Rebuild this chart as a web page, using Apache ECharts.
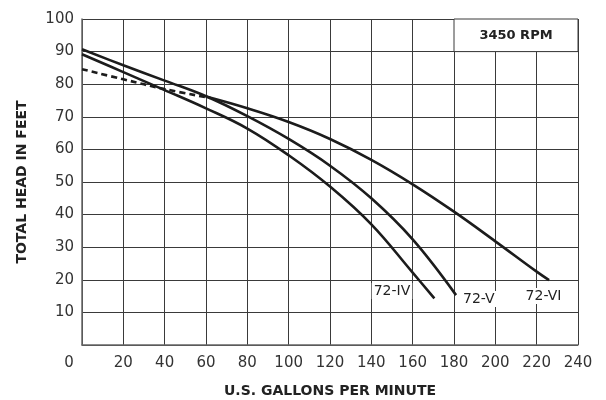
<!DOCTYPE html>
<html>
<head>
<meta charset="utf-8">
<script src="https://cdn.jsdelivr.net/npm/echarts@6/dist/echarts.min.js"></script>
<style>
html,body{margin:0;padding:0;background:#fff;}
#c{width:606px;height:400px;}
</style>
</head>
<body>
<div id="c"></div>
<script>
// ---- data ----
const xTicks = [0, 20, 40, 60, 80, 100, 120, 140, 160, 180, 200, 220, 240];
const yTicks = [0, 10, 20, 30, 40, 50, 60, 70, 80, 90, 100];

const gpmIV  = [0, 20, 40, 60, 80, 100, 120, 140, 160, 170.5];
const headIV = [89.2, 83.7, 78.2, 72.6, 66.4, 58.2, 48.6, 37.0, 22.2, 14.3];

const gpmV  = [0, 20, 40, 60, 80, 100, 120, 140, 160, 181];
const headV = [90.7, 85.8, 81.1, 76.3, 70.2, 63.2, 55.0, 45.0, 32.4, 15.3];

const gpmVI  = [60, 80, 100, 120, 140, 160, 180, 200, 220, 226];
const headVI = [76.2, 72.6, 68.4, 63.2, 56.8, 49.3, 40.9, 31.8, 22.5, 19.9];

const gpmVIdash  = [0, 20, 40, 62];
const headVIdash = [84.6, 81.5, 78.5, 75.8];

const seriesNames = ['72-IV', '72-V', '72-VI'];
const labelAnchors = [[150, 16.6], [192, 14.1], [223.3, 15.0]];
const rpmText = '3450 RPM';
const rpmBox = [[180, 90], [240, 100]];

const xTitle = 'U.S. GALLONS PER MINUTE';
const yTitle = 'TOTAL HEAD IN FEET';

// ---- build ----
const pairs = (xs, ys) => xs.map((x, i) => [x, ys[i]]);
const LINE = '#1c1c1c';
const GRID = '#3a3a3a';
const FONT = 'DejaVu Sans';

function curve(name, data, idx) {
  return {
    name: name,
    type: 'line',
    data: data,
    smooth: 0.4,
    symbol: 'none',
    lineStyle: { color: LINE, width: 2.6 },
    z: 3,
    markPoint: {
      symbol: 'rect',
      symbolSize: 1,
      itemStyle: { color: 'rgba(0,0,0,0)' },
      label: {
        show: true, position: 'inside', formatter: name, color: '#222',
        fontFamily: FONT, fontSize: 14, backgroundColor: '#fff', padding: [1, 2]
      },
      data: [{ coord: labelAnchors[idx] }],
      animation: false
    }
  };
}

const chart = echarts.init(document.getElementById('c'), null, { renderer: 'canvas' });
chart.setOption({
  animation: false,
  backgroundColor: '#fff',
  grid: { left: 82, right: 28, top: 19, bottom: 55, containLabel: false, outerBoundsMode: 'none' },
  xAxis: {
    type: 'value',
    min: xTicks[0], max: xTicks[xTicks.length - 1], interval: 20,
    name: xTitle, nameLocation: 'middle', nameGap: 39,
    nameTextStyle: { fontFamily: FONT, fontWeight: 'bold', fontSize: 14, color: '#222' },
    axisLine: { show: true, lineStyle: { color: '#666', width: 1.5 } },
    axisTick: { show: false },
    splitLine: { show: true, lineStyle: { color: GRID, width: 1 } },
    axisLabel: {
      margin: 11, color: '#333', fontFamily: FONT, fontSize: 15,
      formatter: v => v === 0 ? '{z|0}' : String(v),
      rich: { z: { padding: [0, 26, 0, 0], fontFamily: FONT, fontSize: 15, color: '#333' } }
    }
  },
  yAxis: {
    type: 'value',
    min: yTicks[0], max: yTicks[yTicks.length - 1], interval: 10,
    name: yTitle, nameLocation: 'middle', nameGap: 53, nameRotate: 90,
    nameTextStyle: { fontFamily: FONT, fontWeight: 'bold', fontSize: 14, color: '#222' },
    axisLine: { show: true, lineStyle: { color: '#666', width: 1.5 } },
    axisTick: { show: false },
    splitLine: { show: true, lineStyle: { color: GRID, width: 1 } },
    axisLabel: {
      margin: 8, color: '#333', fontFamily: FONT, fontSize: 15,
      formatter: v => v === 0 ? '' : String(v)
    }
  },
  series: [
    curve(seriesNames[0], pairs(gpmIV, headIV), 0),
    curve(seriesNames[1], pairs(gpmV, headV), 1),
    Object.assign(curve(seriesNames[2], pairs(gpmVI, headVI), 2), {
      markArea: {
        silent: true,
        itemStyle: { color: '#fff', borderColor: GRID, borderWidth: 1 },
        label: { show: true, position: 'inside', formatter: rpmText, color: '#222', fontFamily: FONT, fontWeight: 'bold', fontSize: 13 },
        data: [[{ coord: rpmBox[0] }, { coord: rpmBox[1] }]]
      }
    }),
    {
      name: seriesNames[2] + ' (dashed)',
      type: 'line',
      data: pairs(gpmVIdash, headVIdash),
      smooth: 0.4,
      symbol: 'none',
      z: 3,
      lineStyle: { color: LINE, width: 2.6, type: [6, 4] }
    }
  ]
});
</script>
</body>
</html>
